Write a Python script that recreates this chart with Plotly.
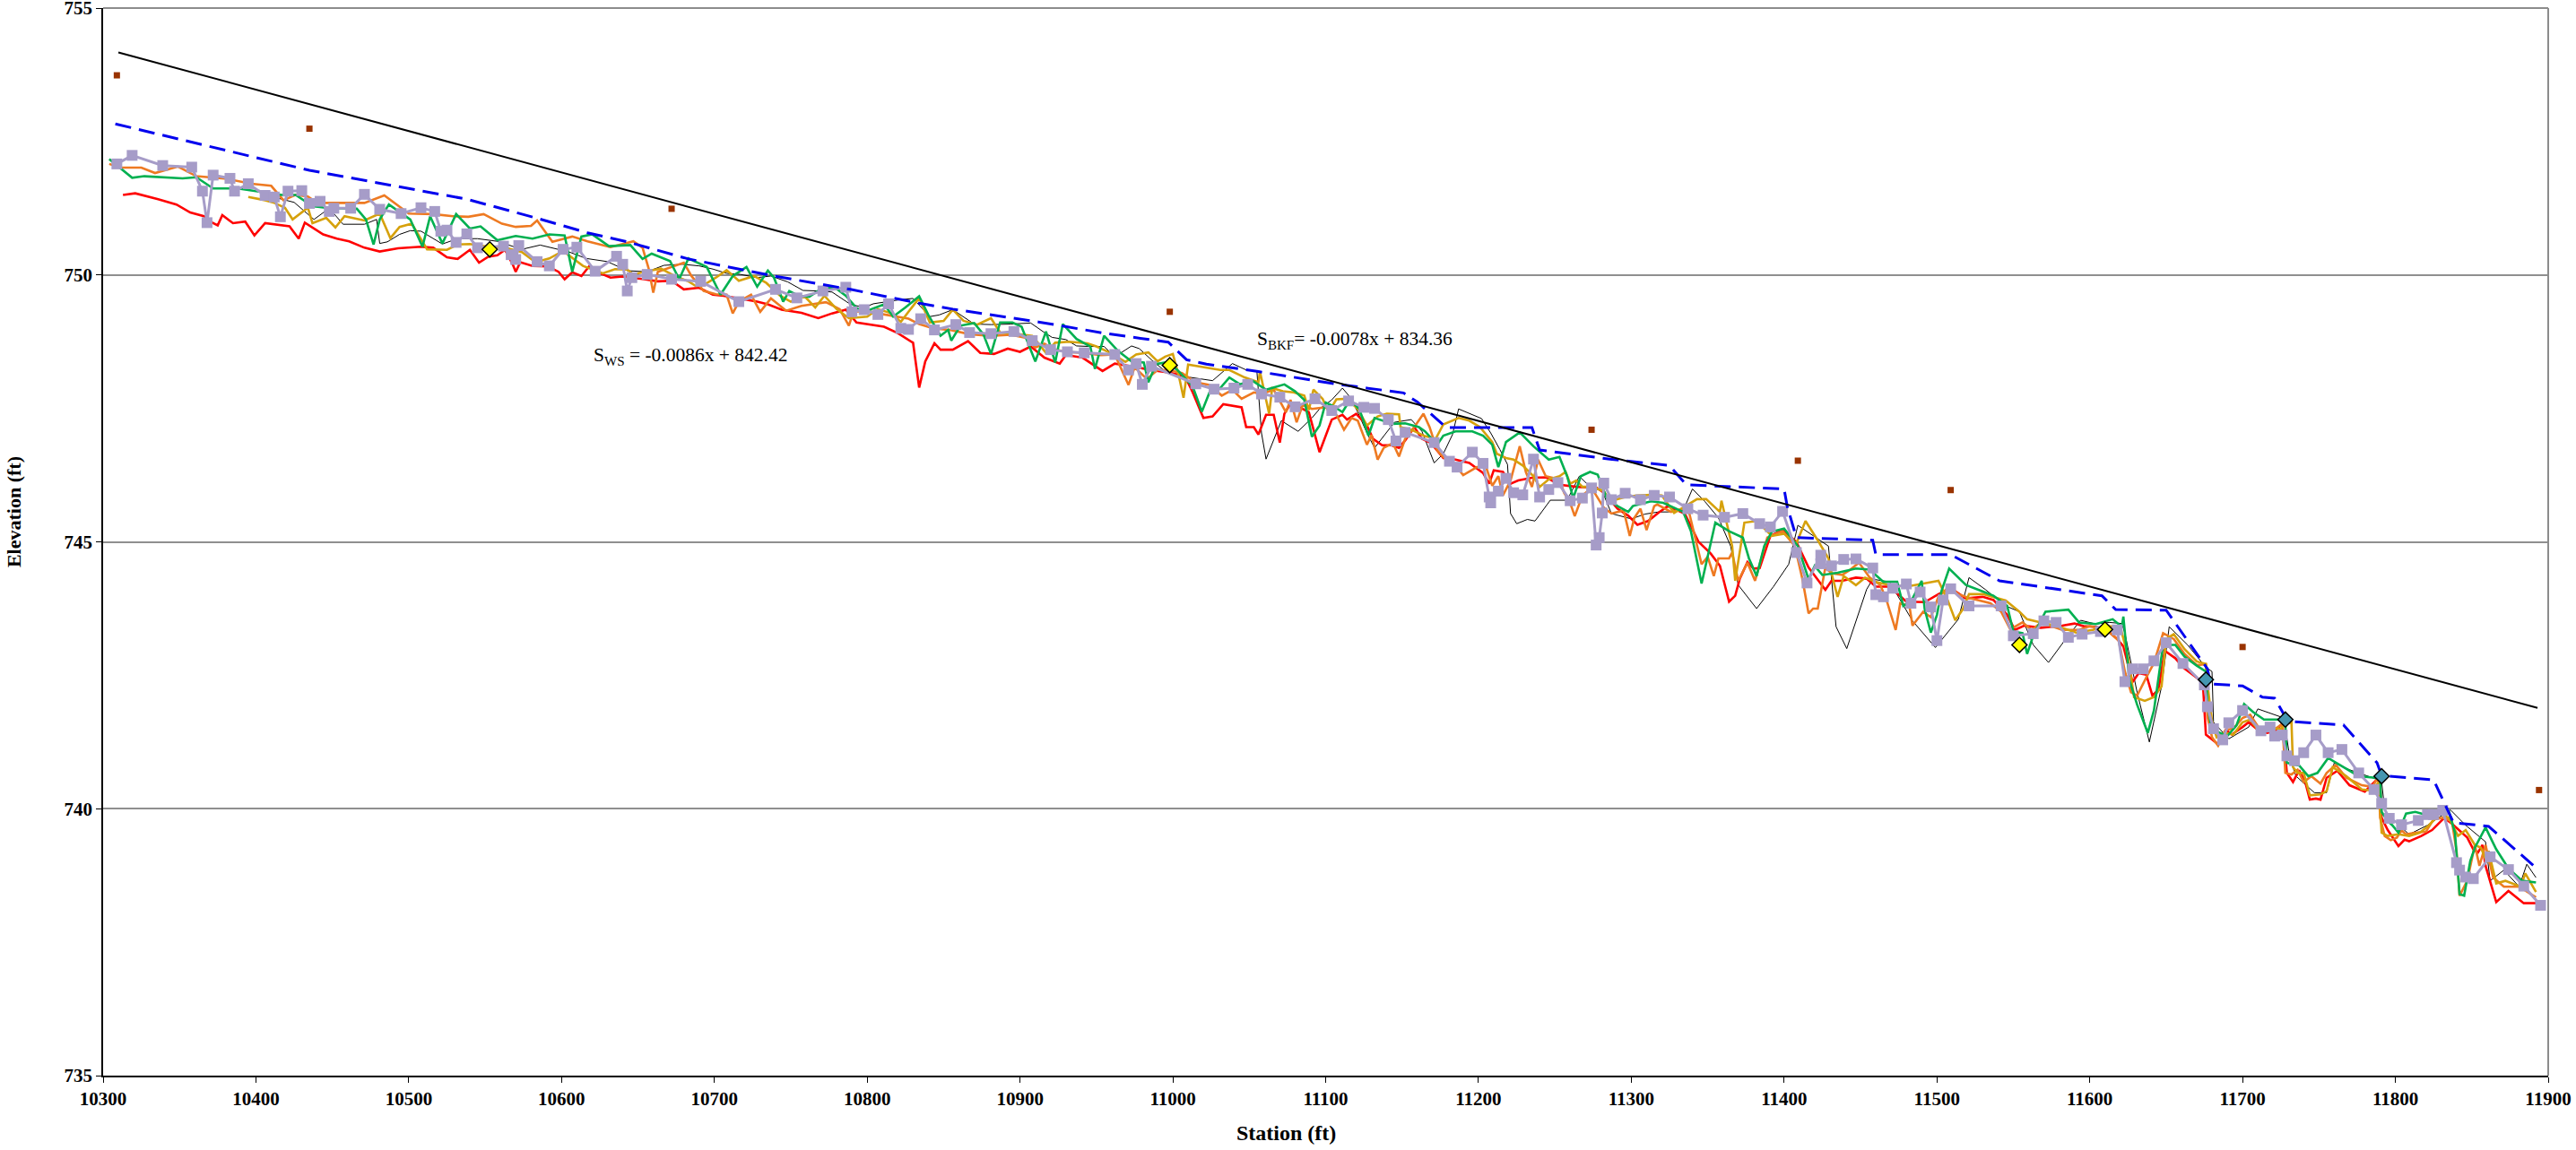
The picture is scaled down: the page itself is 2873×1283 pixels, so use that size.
import plotly.graph_objects as go

# ---------------- data (station ft, elevation ft) ----------------
trend_bkf = [(10310, 754.17), (11893, 741.89)]

bankfull_pts = [(10309, 753.74), (10435, 752.74), (10672, 751.24), (10998, 749.31), (11274, 747.10),
                (11409, 746.52), (11509, 745.97), (11700, 743.03), (11894, 740.35)]

yellow_pts = [(10553, 750.48), (10998, 748.31), (11554, 743.07), (11610, 743.36)]
teal_pts = [(11676, 742.42), (11728, 741.67), (11791, 740.61)]

water_surface = [(10308, 752.83), (10435, 751.96), (10538, 751.42), (10583, 751.07), (10617, 750.79), (10643, 750.62),
                 (10683, 750.30), (10739, 749.98), (10789, 749.73), (10834, 749.47), (10856, 749.36), (10912, 749.12),
                 (10957, 748.90), (10997, 748.74), (11009, 748.41), (11022, 748.33), (11056, 748.19), (11106, 747.96),
                 (11151, 747.79), (11160, 747.62), (11179, 747.14), (11235, 747.14), (11240, 746.72), (11286, 746.55),
                 (11325, 746.43), (11336, 746.07), (11400, 745.99), (11402, 745.67), (11408, 745.08), (11458, 745.03),
                 (11460, 744.76), (11509, 744.76), (11541, 744.27), (11608, 743.99), (11617, 743.73), (11650, 743.72),
                 (11677, 742.62), (11679, 742.34), (11700, 742.30), (11713, 742.09), (11721, 742.07), (11729, 741.67),
                 (11733, 741.63), (11766, 741.57), (11788, 740.86), (11791, 740.62), (11825, 740.54), (11838, 739.74),
                 (11861, 739.67), (11893, 738.87)]

thalweg_survey = [(10309, 752.08), (10319, 752.24), (10339, 752.05), (10358, 752.02), (10365, 751.57), (10368, 750.98),
                  (10372, 751.87), (10383, 751.81), (10386, 751.57), (10395, 751.71), (10406, 751.49), (10412, 751.46),
                  (10416, 751.09), (10421, 751.57), (10430, 751.58), (10435, 751.34), (10442, 751.38), (10448, 751.19),
                  (10451, 751.25), (10462, 751.25), (10471, 751.51), (10481, 751.23), (10495, 751.15), (10508, 751.26),
                  (10517, 751.19), (10521, 750.82), (10525, 750.84), (10531, 750.61), (10538, 750.77), (10545, 750.51),
                  (10562, 750.54), (10567, 750.38), (10570, 750.29), (10572, 750.55), (10584, 750.25), (10592, 750.17),
                  (10601, 750.48), (10610, 750.52), (10622, 750.07), (10636, 750.35), (10640, 750.20), (10643, 749.70),
                  (10646, 749.95), (10656, 750.01), (10672, 749.92), (10691, 749.88), (10716, 749.50), (10740, 749.73),
                  (10754, 749.57), (10771, 749.70), (10786, 749.77), (10790, 749.31), (10798, 749.35), (10807, 749.26),
                  (10814, 749.46), (10822, 749.00), (10827, 748.98), (10835, 749.18), (10844, 748.97), (10858, 749.07),
                  (10867, 748.92), (10881, 748.90), (10896, 748.94), (10908, 748.77), (10920, 748.60), (10931, 748.56),
                  (10942, 748.54), (10962, 748.51), (10971, 748.22), (10976, 748.34), (10980, 747.95), (10986, 748.29),
                  (11015, 747.96), (11027, 747.86), (11040, 747.88), (11049, 747.95), (11058, 747.77), (11070, 747.71),
                  (11080, 747.53), (11093, 747.68), (11104, 747.46), (11115, 747.64), (11125, 747.52), (11132, 747.50),
                  (11141, 747.29), (11146, 746.89), (11152, 747.05), (11171, 746.86), (11181, 746.51), (11186, 746.40),
                  (11196, 746.68), (11203, 746.47), (11207, 745.84), (11208, 745.73), (11213, 745.95), (11218, 746.19),
                  (11223, 745.92), (11229, 745.88), (11236, 746.55), (11240, 745.84), (11246, 745.98), (11252, 746.11),
                  (11260, 745.77), (11268, 745.82), (11274, 746.01), (11277, 744.94), (11279, 745.08), (11281, 745.54),
                  (11282, 746.10), (11287, 745.79), (11296, 745.91), (11306, 745.79), (11315, 745.87), (11325, 745.84),
                  (11337, 745.62), (11347, 745.50), (11361, 745.46), (11373, 745.53), (11384, 745.34), (11391, 745.28),
                  (11399, 745.57), (11408, 744.80), (11415, 744.23), (11424, 744.75), (11424, 744.59), (11431, 744.55),
                  (11439, 744.67), (11447, 744.68), (11458, 744.51), (11460, 744.01), (11465, 743.97), (11471, 744.13),
                  (11480, 744.21), (11483, 743.85), (11489, 744.06), (11496, 743.78), (11500, 743.15), (11504, 743.91),
                  (11509, 744.12), (11521, 743.80), (11542, 743.80), (11550, 743.24), (11563, 743.28), (11570, 743.52),
                  (11578, 743.49), (11586, 743.21), (11595, 743.27), (11607, 743.32), (11618, 743.35), (11623, 742.38),
                  (11628, 742.62), (11635, 742.62), (11642, 742.77), (11650, 743.11), (11661, 742.72), (11675, 742.32),
                  (11677, 741.91), (11681, 741.50), (11687, 741.29), (11691, 741.61), (11700, 741.84), (11712, 741.46),
                  (11718, 741.53), (11721, 741.36), (11726, 741.38), (11729, 740.99), (11734, 740.90), (11740, 741.05),
                  (11748, 741.38), (11756, 741.05), (11765, 741.11), (11776, 740.67), (11786, 740.36), (11791, 740.10),
                  (11796, 739.82), (11804, 739.70), (11815, 739.78), (11821, 739.89), (11825, 739.89), (11831, 739.97),
                  (11840, 738.99), (11842, 738.85), (11846, 738.72), (11851, 738.69), (11862, 739.10), (11874, 738.86),
                  (11884, 738.55), (11895, 738.19)]

profile_red = [(10313, 751.50), (10321, 751.53), (10336, 751.42), (10348, 751.32), (10357, 751.17), (10366, 751.10),
               (10370, 751.00), (10375, 750.93), (10378, 751.12), (10385, 750.97), (10393, 751.00), (10399, 750.74),
               (10406, 750.97), (10422, 750.91), (10428, 750.68), (10432, 750.98), (10444, 750.76), (10453, 750.68),
               (10461, 750.63), (10471, 750.51), (10481, 750.44), (10493, 750.50), (10508, 750.53), (10516, 750.51),
               (10525, 750.33), (10532, 750.30), (10540, 750.47), (10546, 750.23), (10552, 750.34), (10558, 750.37),
               (10563, 750.47), (10568, 750.20), (10570, 750.06), (10573, 750.24), (10581, 750.17), (10591, 750.16),
               (10598, 750.06), (10602, 749.92), (10607, 750.05), (10613, 749.98), (10618, 750.16), (10623, 750.06),
               (10632, 749.95), (10640, 749.97), (10654, 749.92), (10663, 749.88), (10672, 749.89), (10680, 749.73),
               (10690, 749.76), (10699, 749.63), (10706, 749.61), (10717, 749.56), (10728, 749.50), (10735, 749.45),
               (10744, 749.35), (10757, 749.29), (10768, 749.19), (10777, 749.28), (10786, 749.35), (10793, 749.11),
               (10811, 749.03), (10820, 748.91), (10830, 748.73), (10834, 747.89), (10838, 748.38), (10844, 748.72),
               (10848, 748.60), (10856, 748.60), (10866, 748.76), (10874, 748.54), (10883, 748.52), (10892, 748.62),
               (10900, 748.56), (10907, 748.66), (10916, 748.45), (10926, 748.34), (10930, 748.50), (10941, 748.45),
               (10954, 748.20), (10962, 748.34), (10975, 748.28), (10985, 748.22), (10998, 748.17), (11008, 748.10),
               (11013, 747.80), (11020, 747.32), (11026, 747.35), (11033, 747.58), (11045, 747.52), (11048, 747.15),
               (11053, 747.15), (11056, 747.01), (11061, 747.38), (11066, 747.38), (11070, 746.86), (11073, 747.40),
               (11077, 747.59), (11083, 747.52), (11089, 747.43), (11096, 746.68), (11104, 747.29), (11111, 747.38),
               (11114, 747.29), (11120, 747.40), (11127, 747.18), (11131, 746.93), (11137, 746.81), (11143, 746.81),
               (11148, 746.76), (11152, 746.90), (11158, 747.15), (11163, 746.93), (11169, 746.85), (11177, 746.57),
               (11185, 746.54), (11194, 746.48), (11203, 746.29), (11207, 746.09), (11210, 746.34), (11216, 746.31),
               (11221, 746.09), (11226, 746.15), (11235, 746.20), (11244, 746.21), (11253, 746.07), (11264, 746.03),
               (11271, 746.02), (11276, 746.04), (11282, 745.92), (11291, 745.62), (11298, 745.49), (11304, 745.32),
               (11311, 745.39), (11318, 745.55), (11324, 745.67), (11335, 745.53), (11344, 745.00), (11352, 744.78),
               (11358, 744.55), (11364, 743.88), (11368, 743.99), (11371, 744.31), (11376, 744.62), (11380, 744.50),
               (11384, 744.51), (11391, 745.11), (11399, 745.22), (11408, 745.00), (11416, 744.52), (11427, 744.10),
               (11431, 744.27), (11438, 744.27), (11447, 744.33), (11454, 744.31), (11460, 744.16), (11469, 744.16),
               (11480, 743.88), (11492, 743.87), (11501, 744.02), (11509, 744.13), (11519, 743.94), (11530, 743.97),
               (11537, 743.91), (11546, 743.63), (11551, 743.35), (11557, 743.43), (11568, 743.39), (11582, 743.43),
               (11590, 743.47), (11596, 743.42), (11604, 743.41), (11611, 743.35), (11618, 743.18), (11622, 743.04),
               (11628, 742.37), (11632, 742.54), (11637, 742.51), (11641, 742.12), (11645, 742.23), (11649, 742.96),
               (11656, 742.82), (11661, 742.65), (11674, 742.37), (11676, 741.39), (11684, 741.21), (11689, 741.48),
               (11693, 741.39), (11700, 741.53), (11704, 741.62), (11709, 741.50), (11716, 741.42), (11721, 741.45),
               (11726, 741.59), (11729, 740.67), (11733, 740.50), (11737, 740.72), (11741, 740.50), (11744, 740.17),
               (11748, 740.19), (11751, 740.17), (11755, 740.58), (11762, 740.71), (11770, 740.44), (11780, 740.32),
               (11788, 740.55), (11790, 740.50), (11791, 739.83), (11795, 739.60), (11802, 739.30), (11806, 739.42),
               (11809, 739.39), (11817, 739.49), (11824, 739.60), (11832, 739.83), (11837, 739.72), (11847, 739.46),
               (11851, 739.24), (11854, 739.18), (11857, 739.32), (11859, 738.93), (11866, 738.25), (11874, 738.46),
               (11884, 738.23), (11892, 738.23)]

profile_orange = [(10304, 752.08), (10311, 752.01), (10325, 752.01), (10334, 751.91), (10349, 752.03), (10361, 751.85),
                  (10381, 751.80), (10397, 751.71), (10410, 751.67), (10418, 751.40), (10426, 751.50), (10434, 751.47),
                  (10440, 751.35), (10448, 751.35), (10471, 751.35), (10484, 751.49), (10500, 751.15), (10516, 751.14),
                  (10529, 751.10), (10539, 751.09), (10549, 751.14), (10561, 750.96), (10570, 750.90), (10580, 750.92),
                  (10584, 751.02), (10594, 750.62), (10607, 750.72), (10617, 750.63), (10632, 750.52), (10647, 750.63),
                  (10653, 750.51), (10657, 750.12), (10660, 749.67), (10663, 750.06), (10680, 750.23), (10685, 749.98),
                  (10693, 749.70), (10701, 749.64), (10708, 749.63), (10712, 749.28), (10716, 749.50), (10724, 749.63),
                  (10730, 749.31), (10737, 749.56), (10747, 749.33), (10757, 749.42), (10773, 749.49), (10782, 749.36),
                  (10788, 749.05), (10791, 749.31), (10799, 749.33), (10807, 749.28), (10818, 749.22), (10827, 749.18),
                  (10834, 749.08), (10843, 749.00), (10854, 748.97), (10867, 748.89), (10881, 748.86), (10894, 748.88),
                  (10904, 748.82), (10910, 748.64), (10916, 748.71), (10922, 748.61), (10930, 748.56), (10941, 748.54),
                  (10953, 748.50), (10962, 748.51), (10971, 747.94), (10975, 748.27), (10983, 748.05), (10990, 748.22),
                  (10997, 748.22), (11006, 748.16), (11015, 747.99), (11024, 747.94), (11032, 747.74), (11039, 747.85),
                  (11045, 747.68), (11053, 747.80), (11058, 747.77), (11066, 747.85), (11074, 747.43), (11077, 747.66),
                  (11081, 747.24), (11085, 747.57), (11091, 747.49), (11100, 747.52), (11107, 747.38), (11112, 747.10),
                  (11117, 747.32), (11121, 747.27), (11127, 746.82), (11130, 747.00), (11134, 746.54), (11138, 746.76),
                  (11144, 746.85), (11148, 746.60), (11152, 746.93), (11158, 747.15), (11164, 747.40), (11168, 747.15),
                  (11173, 746.71), (11177, 746.59), (11185, 746.43), (11190, 746.25), (11199, 746.40), (11205, 746.40),
                  (11209, 746.05), (11213, 746.23), (11216, 745.87), (11221, 746.15), (11227, 746.79), (11231, 746.31),
                  (11235, 746.03), (11239, 746.54), (11244, 746.23), (11253, 746.17), (11256, 745.92), (11260, 745.73),
                  (11263, 745.48), (11268, 745.87), (11274, 746.01), (11282, 745.64), (11287, 745.53), (11295, 745.59),
                  (11299, 745.11), (11302, 745.45), (11306, 745.62), (11310, 745.22), (11315, 745.67), (11317, 745.70),
                  (11326, 745.56), (11334, 745.62), (11338, 745.53), (11343, 744.94), (11346, 744.58), (11350, 744.72),
                  (11354, 744.36), (11357, 744.69), (11364, 744.69), (11366, 744.80), (11370, 744.27), (11376, 744.61),
                  (11381, 744.27), (11389, 745.08), (11399, 745.20), (11407, 744.92), (11412, 744.30), (11416, 743.66),
                  (11419, 743.75), (11422, 743.75), (11427, 744.52), (11431, 744.41), (11438, 744.38), (11443, 744.47),
                  (11449, 744.61), (11456, 744.33), (11463, 744.19), (11467, 743.91), (11473, 743.35), (11476, 743.85),
                  (11482, 743.80), (11484, 743.43), (11491, 743.69), (11496, 743.59), (11501, 743.97), (11508, 744.16),
                  (11514, 744.02), (11522, 743.94), (11535, 743.85), (11542, 743.69), (11548, 743.36), (11556, 743.49),
                  (11562, 743.35), (11567, 743.46), (11574, 743.43), (11582, 743.35), (11593, 743.35), (11600, 743.42),
                  (11611, 743.35), (11619, 743.15), (11623, 742.57), (11627, 742.18), (11631, 742.12), (11637, 742.46),
                  (11642, 742.73), (11648, 743.29), (11655, 743.18), (11662, 742.90), (11670, 742.69), (11676, 742.71),
                  (11677, 741.73), (11680, 741.34), (11684, 741.18), (11689, 741.48), (11694, 741.50), (11700, 741.70),
                  (11705, 741.76), (11711, 741.50), (11719, 741.45), (11726, 741.59), (11728, 740.67), (11732, 740.64),
                  (11736, 740.73), (11740, 740.50), (11745, 740.61), (11751, 740.47), (11755, 740.67), (11761, 740.82),
                  (11768, 740.58), (11778, 740.44), (11785, 740.41), (11789, 740.61), (11790, 739.83), (11793, 739.49),
                  (11797, 739.41), (11801, 739.46), (11804, 739.60), (11807, 739.52), (11813, 739.55), (11820, 739.57),
                  (11825, 739.80), (11831, 739.83), (11837, 739.77), (11840, 739.21), (11842, 738.37), (11847, 738.65),
                  (11852, 739.32), (11855, 738.93), (11859, 739.32), (11864, 738.71), (11871, 738.54), (11881, 738.54),
                  (11892, 738.34)]

profile_gold = [(10395, 751.46), (10406, 751.40), (10412, 751.35), (10419, 751.26), (10424, 751.04), (10434, 751.26),
                (10437, 750.97), (10446, 751.07), (10452, 750.89), (10458, 751.10), (10471, 751.02), (10481, 751.15),
                (10488, 750.69), (10494, 750.90), (10502, 750.96), (10512, 750.48), (10525, 750.47), (10532, 750.57),
                (10540, 750.58), (10554, 750.52), (10563, 750.51), (10574, 750.43), (10583, 750.24), (10592, 750.31),
                (10601, 750.45), (10609, 750.27), (10614, 750.17), (10627, 750.03), (10635, 750.11), (10643, 750.10),
                (10647, 750.01), (10656, 750.07), (10665, 750.12), (10674, 749.98), (10683, 749.88), (10688, 749.79),
                (10693, 749.81), (10701, 749.95), (10708, 750.09), (10716, 749.89), (10726, 749.98), (10734, 749.85),
                (10743, 749.61), (10750, 749.50), (10759, 749.60), (10766, 749.39), (10772, 749.61), (10780, 749.36),
                (10788, 749.19), (10800, 749.22), (10807, 749.36), (10816, 749.28), (10822, 749.12), (10834, 749.57),
                (10841, 749.11), (10850, 749.14), (10856, 749.35), (10863, 749.14), (10872, 749.07), (10881, 749.19),
                (10887, 748.92), (10899, 748.89), (10908, 748.86), (10917, 748.54), (10923, 748.73), (10932, 748.75),
                (10944, 748.72), (10950, 748.66), (10959, 748.54), (10969, 748.37), (10976, 748.51), (10984, 748.55),
                (10990, 748.38), (10995, 748.47), (11000, 748.52), (11004, 748.10), (11007, 747.70), (11010, 748.32),
                (11020, 748.27), (11031, 748.22), (11037, 748.22), (11047, 748.08), (11056, 747.99), (11057, 748.19),
                (11063, 747.40), (11065, 747.88), (11072, 747.82), (11079, 747.80), (11086, 747.74), (11089, 747.47),
                (11092, 747.85), (11098, 747.68), (11102, 747.43), (11107, 747.67), (11114, 747.68), (11121, 747.49),
                (11127, 747.18), (11134, 747.35), (11140, 747.40), (11148, 747.39), (11149, 747.15), (11156, 747.10),
                (11165, 746.98), (11172, 746.93), (11177, 747.20), (11187, 747.32), (11194, 747.27), (11201, 747.15),
                (11209, 746.87), (11212, 746.65), (11218, 746.57), (11223, 746.54), (11229, 746.43), (11236, 746.23),
                (11240, 746.03), (11246, 746.17), (11253, 746.23), (11257, 746.31), (11260, 746.09), (11264, 746.15),
                (11268, 746.03), (11274, 746.03), (11282, 745.95), (11286, 745.76), (11296, 745.84), (11304, 745.87),
                (11313, 745.88), (11320, 745.87), (11328, 745.54), (11337, 745.70), (11343, 745.80), (11349, 745.80),
                (11358, 745.56), (11359, 745.77), (11366, 744.92), (11368, 744.27), (11374, 745.36), (11382, 745.39),
                (11392, 745.11), (11400, 745.15), (11408, 744.97), (11414, 745.39), (11422, 745.03), (11429, 744.69),
                (11432, 744.30), (11435, 743.97), (11439, 744.36), (11447, 744.19), (11453, 744.33), (11460, 744.25),
                (11469, 744.19), (11480, 744.16), (11492, 744.22), (11501, 744.27), (11507, 743.91), (11512, 743.53),
                (11517, 743.74), (11521, 744.02), (11530, 744.02), (11545, 743.90), (11554, 743.69), (11559, 743.55),
                (11568, 743.49), (11580, 743.41), (11591, 743.30), (11602, 743.35), (11611, 743.42), (11620, 743.41),
                (11625, 742.85), (11629, 742.09), (11636, 742.02), (11642, 742.09), (11647, 742.29), (11650, 743.18),
                (11655, 743.27), (11662, 742.99), (11670, 742.76), (11676, 742.71), (11677, 742.34), (11680, 741.64),
                (11683, 741.34), (11688, 741.42), (11694, 741.39), (11700, 741.62), (11705, 741.67), (11710, 741.48),
                (11717, 741.50), (11725, 741.50), (11729, 741.60), (11732, 741.63), (11733, 740.78), (11736, 740.67),
                (11740, 740.67), (11744, 740.25), (11751, 740.27), (11755, 740.33), (11759, 740.78), (11768, 740.61),
                (11778, 740.36), (11785, 740.34), (11789, 740.50), (11791, 739.55), (11795, 739.49), (11802, 739.52),
                (11809, 739.49), (11816, 739.55), (11822, 739.69), (11829, 739.91), (11835, 739.83), (11841, 739.49),
                (11846, 739.60), (11852, 739.32), (11856, 739.27), (11860, 738.99), (11861, 739.21), (11866, 738.60),
                (11872, 738.65), (11882, 738.54), (11885, 738.79), (11892, 738.44)]

profile_green = [(10304, 752.17), (10319, 751.82), (10327, 751.85), (10352, 751.81), (10361, 751.83), (10372, 751.62),
                 (10388, 751.62), (10401, 751.57), (10417, 751.50), (10426, 751.50), (10437, 751.29), (10448, 751.25),
                 (10466, 751.24), (10472, 751.04), (10477, 750.57), (10481, 751.04), (10487, 751.32), (10501, 751.04),
                 (10509, 750.53), (10514, 751.10), (10522, 750.59), (10531, 751.14), (10540, 750.87), (10547, 750.91),
                 (10558, 750.65), (10570, 750.73), (10581, 750.68), (10592, 750.76), (10602, 750.74), (10607, 750.06),
                 (10613, 750.72), (10620, 750.76), (10631, 750.54), (10645, 750.56), (10653, 750.30), (10659, 750.40),
                 (10671, 750.26), (10677, 749.92), (10683, 750.31), (10695, 750.15), (10704, 749.63), (10712, 749.98),
                 (10721, 750.15), (10728, 749.78), (10735, 750.08), (10739, 749.95), (10745, 749.50), (10749, 749.70),
                 (10755, 749.61), (10762, 749.59), (10772, 749.78), (10780, 749.74), (10786, 749.61), (10793, 749.38),
                 (10798, 749.31), (10802, 749.35), (10811, 749.45), (10817, 749.22), (10825, 749.39), (10834, 749.60),
                 (10840, 749.25), (10848, 748.86), (10853, 748.97), (10855, 748.77), (10861, 749.05), (10870, 749.10),
                 (10876, 748.89), (10881, 748.52), (10887, 749.11), (10895, 749.11), (10901, 749.03), (10910, 748.38),
                 (10917, 748.94), (10923, 748.36), (10928, 749.08), (10937, 748.80), (10946, 748.66), (10949, 748.24),
                 (10955, 748.86), (10964, 748.58), (10973, 748.38), (10981, 748.36), (10984, 747.99), (10989, 748.33),
                 (10995, 748.36), (11003, 748.22), (11013, 747.91), (11019, 747.44), (11024, 747.80), (11031, 747.88),
                 (11037, 748.08), (11044, 747.95), (11052, 748.02), (11061, 747.85), (11073, 747.95), (11080, 747.82),
                 (11086, 747.66), (11091, 746.97), (11096, 747.18), (11100, 747.61), (11105, 747.54), (11111, 747.43),
                 (11116, 747.66), (11122, 747.49), (11128, 746.99), (11132, 747.32), (11144, 747.21), (11152, 747.22),
                 (11161, 747.15), (11165, 747.07), (11173, 746.82), (11177, 746.99), (11185, 747.07), (11196, 747.07),
                 (11203, 746.99), (11209, 746.82), (11213, 746.40), (11218, 746.87), (11227, 747.05), (11236, 746.79),
                 (11246, 746.54), (11253, 746.59), (11258, 746.23), (11262, 745.82), (11267, 746.23), (11273, 746.31),
                 (11278, 746.26), (11284, 745.81), (11291, 745.67), (11298, 745.56), (11301, 745.67), (11306, 745.71),
                 (11313, 745.76), (11321, 745.73), (11328, 745.64), (11334, 745.56), (11339, 745.20), (11346, 744.22),
                 (11355, 745.36), (11364, 745.20), (11373, 745.08), (11377, 744.69), (11382, 744.36), (11387, 744.92),
                 (11392, 745.19), (11400, 745.25), (11409, 744.92), (11416, 744.30), (11420, 744.55), (11425, 744.38),
                 (11435, 744.42), (11447, 744.50), (11456, 744.48), (11465, 744.25), (11474, 744.25), (11478, 743.80),
                 (11483, 743.88), (11490, 744.27), (11492, 743.74), (11496, 743.30), (11500, 743.63), (11503, 744.08),
                 (11508, 744.50), (11519, 744.19), (11529, 744.08), (11537, 743.99), (11546, 743.80), (11550, 743.32),
                 (11556, 743.29), (11559, 742.90), (11563, 743.24), (11571, 743.69), (11586, 743.73), (11593, 743.49),
                 (11604, 743.46), (11615, 743.55), (11621, 743.41), (11622, 743.60), (11626, 742.40), (11631, 741.95),
                 (11638, 741.42), (11642, 741.84), (11648, 743.07), (11656, 743.07), (11662, 742.85), (11670, 742.68),
                 (11676, 742.57), (11677, 741.95), (11679, 741.62), (11683, 741.45), (11690, 741.36), (11696, 741.56),
                 (11701, 741.96), (11707, 741.81), (11714, 741.67), (11724, 741.67), (11728, 741.62), (11729, 740.86),
                 (11733, 740.83), (11737, 740.81), (11743, 740.61), (11749, 740.67), (11756, 740.95), (11766, 740.78),
                 (11776, 740.61), (11787, 740.58), (11790, 740.55), (11791, 739.94), (11795, 739.77), (11798, 739.69),
                 (11802, 739.55), (11807, 739.91), (11813, 739.94), (11821, 739.88), (11829, 739.97), (11835, 739.95),
                 (11839, 739.55), (11842, 738.40), (11845, 738.37), (11849, 739.02), (11852, 739.27), (11859, 739.65),
                 (11866, 739.24), (11874, 738.88), (11883, 738.65), (11892, 738.62)]

profile_black = [(10402, 751.59), (10410, 751.47), (10425, 751.36), (10438, 751.04), (10448, 751.25), (10457, 750.95),
                 (10471, 750.95), (10479, 751.04), (10481, 750.59), (10486, 750.62), (10494, 750.76), (10501, 750.83),
                 (10508, 750.82), (10516, 750.68), (10522, 750.58), (10532, 750.68), (10545, 750.68), (10558, 750.63),
                 (10574, 750.48), (10586, 750.56), (10594, 750.51), (10605, 750.43), (10616, 750.31), (10630, 750.25),
                 (10643, 750.08), (10656, 750.06), (10667, 750.18), (10679, 750.20), (10690, 750.17), (10699, 750.11),
                 (10708, 750.03), (10717, 750.01), (10728, 749.95), (10737, 749.98), (10748, 749.87), (10758, 749.71),
                 (10768, 749.70), (10777, 749.68), (10789, 749.45), (10798, 749.39), (10804, 749.46), (10813, 749.50),
                 (10820, 749.53), (10830, 749.56), (10841, 749.22), (10847, 749.25), (10856, 749.35), (10870, 749.08),
                 (10881, 749.07), (10894, 749.08), (10907, 749.10), (10916, 748.92), (10921, 748.83), (10930, 748.79),
                 (10937, 748.67), (10946, 748.66), (10955, 748.66), (10960, 748.52), (10966, 748.54), (10973, 748.67),
                 (10978, 748.62), (10986, 748.41), (10994, 748.22), (11000, 748.13), (11008, 748.10), (11017, 748.06),
                 (11026, 748.02), (11039, 748.34), (11048, 748.22), (11055, 748.20), (11056, 747.77), (11058, 747.04),
                 (11061, 746.55), (11071, 747.27), (11082, 747.07), (11091, 747.32), (11096, 747.49), (11104, 747.66),
                 (11111, 747.88), (11116, 747.71), (11121, 747.43), (11127, 747.04), (11132, 746.76), (11138, 746.99),
                 (11145, 747.24), (11156, 747.29), (11163, 747.07), (11171, 746.48), (11177, 746.65), (11183, 747.01),
                 (11187, 747.49), (11202, 747.31), (11208, 747.04), (11214, 746.73), (11219, 746.45), (11221, 745.53),
                 (11225, 745.34), (11232, 745.42), (11237, 745.39), (11247, 745.78), (11258, 745.78), (11266, 746.23),
                 (11273, 746.03), (11281, 745.95), (11287, 745.53), (11300, 745.43), (11309, 745.52), (11318, 745.56),
                 (11324, 745.56), (11334, 745.59), (11340, 745.99), (11348, 745.76), (11357, 745.45), (11365, 744.92),
                 (11370, 744.19), (11382, 743.75), (11393, 744.16), (11403, 744.58), (11409, 745.31), (11429, 744.92),
                 (11434, 743.41), (11441, 743.00), (11447, 743.52), (11454, 744.11), (11458, 744.30), (11469, 744.25),
                 (11484, 743.52), (11499, 743.02), (11514, 743.55), (11521, 744.33), (11532, 744.10), (11545, 743.80),
                 (11554, 743.69), (11563, 743.07), (11573, 742.74), (11583, 743.13), (11594, 743.53), (11604, 743.46),
                 (11613, 743.49), (11621, 743.47), (11623, 743.29), (11631, 742.18), (11639, 741.25), (11647, 742.29),
                 (11652, 743.41), (11664, 743.07), (11676, 742.65), (11680, 742.57), (11681, 741.62), (11691, 741.31),
                 (11704, 741.53), (11710, 741.87), (11727, 741.70), (11731, 740.94), (11735, 740.61), (11747, 740.30),
                 (11755, 740.30), (11760, 740.86), (11770, 740.73), (11786, 740.57), (11791, 740.50), (11793, 739.99),
                 (11797, 739.83), (11809, 739.52), (11821, 739.69), (11836, 739.98), (11846, 739.69), (11859, 739.38),
                 (11862, 738.65), (11871, 738.85), (11881, 738.54), (11886, 738.96), (11892, 738.71)]

x_ticks = [10300, 10400, 10500, 10600, 10700, 10800, 10900, 11000, 11100, 11200, 11300, 11400, 11500, 11600, 11700, 11800, 11900]
y_ticks = [735, 740, 745, 750, 755]

eq_ws = "S<sub>WS</sub> = -0.0086x + 842.42"
eq_bkf = "S<sub>BKF</sub>= -0.0078x + 834.36"


def xs(pts):
    return [p[0] for p in pts]


def ys(pts):
    return [p[1] for p in pts]


SERIF = "Liberation Serif"
fig = go.Figure()


def add_line(pts, color, width, dash="solid", name=""):
    fig.add_trace(go.Scatter(x=xs(pts), y=ys(pts), mode="lines", name=name,
                             line=dict(color=color, width=width, dash=dash), hoverinfo="x+y"))


add_line(profile_black, "#000000", 1, name="Profile A")
add_line(profile_red, "#ff0000", 2.6, name="Profile B")
add_line(profile_orange, "#ee7a22", 2.6, name="Profile C")
add_line(profile_gold, "#d6a10c", 2.6, name="Profile D")
add_line(profile_green, "#00b050", 2.6, name="Profile E")

fig.add_trace(go.Scatter(x=xs(thalweg_survey), y=ys(thalweg_survey), mode="lines+markers", name="Survey",
                         line=dict(color="#a69cc8", width=3),
                         marker=dict(symbol="square", size=12, color="#a69cc8")))

add_line(water_surface, "#0000ee", 3, dash="18px,9px", name="Water surface")
add_line(trend_bkf, "#000000", 2, name="Bankfull trend")

fig.add_trace(go.Scatter(x=xs(yellow_pts), y=ys(yellow_pts), mode="markers", name="Riffle",
                         marker=dict(symbol="diamond", size=13, color="#ffff00", line=dict(color="#000000", width=1.5))))
fig.add_trace(go.Scatter(x=xs(teal_pts), y=ys(teal_pts), mode="markers", name="Step",
                         marker=dict(symbol="diamond", size=13, color="#4596b0", line=dict(color="#000000", width=1.5))))
fig.add_trace(go.Scatter(x=xs(bankfull_pts), y=ys(bankfull_pts), mode="markers", name="Bankfull",
                         marker=dict(symbol="square", size=7, color="#993300")))

fig.update_layout(
    width=2873, height=1283,
    margin=dict(l=115, r=31, t=9, b=83, autoexpand=False),
    paper_bgcolor="white", plot_bgcolor="white",
    showlegend=False,
    font=dict(family=SERIF, color="#000000"),
)

fig.update_xaxes(range=[10300, 11900], tickvals=x_ticks, ticktext=[str(v) for v in x_ticks],
                 showgrid=False, zeroline=False,
                 showline=True, linecolor="#000000", linewidth=2,
                 ticks="outside", ticklen=6, tickwidth=1, tickcolor="#000000",
                 tickfont=dict(family=SERIF, size=21, weight="bold", color="#000000"),
                 ticklabeloverflow="allow", automargin=False)
fig.update_yaxes(range=[735, 755], tickvals=y_ticks, ticktext=[str(v) for v in y_ticks],
                 showgrid=True, gridcolor="#8f8f8f", gridwidth=1.5, zeroline=False,
                 showline=True, linecolor="#000000", linewidth=1.5,
                 ticks="outside", ticklen=6, tickwidth=1, tickcolor="#000000",
                 tickfont=dict(family=SERIF, size=21, weight="bold", color="#000000"),
                 ticklabeloverflow="allow", automargin=False)

# grey frame top & right
fig.add_shape(type="line", xref="paper", yref="paper", x0=0, x1=1, y0=1, y1=1, line=dict(color="#8c8c8c", width=2))
fig.add_shape(type="line", xref="paper", yref="paper", x0=1, x1=1, y0=0, y1=1, line=dict(color="#8c8c8c", width=2))

fig.add_annotation(x=10620, y=748.47, xref="x", yref="y", text=eq_ws, showarrow=False,
                   xanchor="left", yanchor="middle", font=dict(family=SERIF, size=21.5, color="#000000"))
fig.add_annotation(x=11054, y=748.78, xref="x", yref="y", text=eq_bkf, showarrow=False,
                   xanchor="left", yanchor="middle", font=dict(family=SERIF, size=21.5, color="#000000"))

fig.add_annotation(x=0.484, y=-0.0537, xref="paper", yref="paper", text="Station (ft)", showarrow=False,
                   xanchor="center", yanchor="middle", font=dict(family=SERIF, size=24, weight="bold", color="#000000"))
fig.add_annotation(x=-0.0367, y=0.528, xref="paper", yref="paper", text="Elevation (ft)", showarrow=False,
                   textangle=-90, xanchor="center", yanchor="middle",
                   font=dict(family=SERIF, size=22, weight="bold", color="#000000"))

fig.write_html("out.html", config={"displayModeBar": False},
               post_script="document.body.style.margin='0';document.body.style.padding='0';")
